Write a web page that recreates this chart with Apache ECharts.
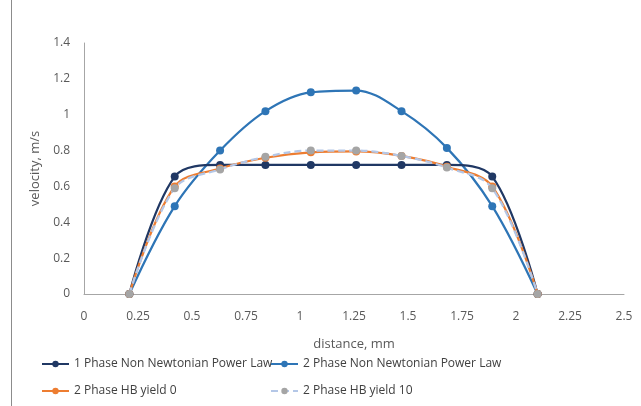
<!DOCTYPE html>
<html><head><meta charset="utf-8">
<script src="https://cdn.jsdelivr.net/npm/echarts@6/dist/echarts.min.js"></script>
<style>html,body{margin:0;padding:0;background:#fff}#c{width:641px;height:406px}</style>
</head><body><div id="c"></div>
<script>
const distance = [0.21, 0.42, 0.63, 0.84, 1.05, 1.26, 1.47, 1.68, 1.89, 2.10];
const onePhasePL = [0, 0.655, 0.72, 0.72, 0.72, 0.72, 0.72, 0.72, 0.655, 0];
const twoPhasePL = [0, 0.49, 0.80, 1.02, 1.125, 1.135, 1.02, 0.815, 0.49, 0];
const hbYield0 = [0, 0.60, 0.70, 0.76, 0.79, 0.795, 0.77, 0.71, 0.60, 0];
const hbYield10 = [0, 0.59, 0.695, 0.765, 0.80, 0.80, 0.77, 0.705, 0.59, 0];
const names = ['1 Phase Non Newtonian Power Law', '2 Phase Non Newtonian Power Law', '2 Phase HB yield 0', '2 Phase HB yield 10'];
const xTitle = 'distance, mm';
const yTitle = 'velocity, m/s';

const font = 'Open Sans';
const pairs = arr => distance.map((d, i) => [d, arr[i]]);
function mk(name, arr, lineColor, markColor, dashed, z) {
  return {
    name, type: 'line', data: pairs(arr), smooth: 0.35, z,
    symbol: 'circle', symbolSize: 8, showSymbol: true,
    lineStyle: { color: lineColor, width: 2.25, type: dashed ? [7, 4] : 'solid' },
    itemStyle: { color: markColor, borderWidth: 0 },
    emphasis: { disabled: true }
  };
}
const chart = echarts.init(document.getElementById('c'), null, { renderer: 'canvas' });
const legendBase = { padding: 0, itemWidth: 27, itemHeight: 8, itemGap: 2, textStyle: { fontFamily: font, fontSize: 12, color: '#404040' }, selectedMode: false };
chart.setOption({
  animation: false,
  grid: { left: 84, right: 17, top: 43, bottom: 112 },
  graphic: [{ type: 'line', shape: { x1: 11.5, y1: 0, x2: 11.5, y2: 406 }, style: { stroke: '#8c8c8c', lineWidth: 1 } }],
  xAxis: {
    type: 'value', min: 0, max: 2.5, interval: 0.25,
    name: xTitle, nameLocation: 'middle', nameGap: 44,
    nameTextStyle: { fontFamily: font, fontSize: 13, color: '#595959' },
    axisLine: { show: true, lineStyle: { color: '#a6a6a6', width: 1 } },
    axisTick: { show: false }, splitLine: { show: false },
    axisLabel: { fontFamily: font, fontSize: 12, color: '#595959', margin: 17 }
  },
  yAxis: {
    type: 'value', min: 0, max: 1.4, interval: 0.2,
    name: yTitle, nameLocation: 'middle', nameGap: 42, nameRotate: 90,
    nameTextStyle: { fontFamily: font, fontSize: 13, color: '#595959' },
    axisLine: { show: true, lineStyle: { color: '#a6a6a6', width: 1 } },
    axisTick: { show: false }, splitLine: { show: false },
    axisLabel: { fontFamily: font, fontSize: 12, color: '#595959', margin: 14 }
  },
  legend: [
    Object.assign({ left: 41, top: 358, data: [names[0]] }, legendBase),
    Object.assign({ left: 270, top: 358, data: [names[1]] }, legendBase),
    Object.assign({ left: 41, top: 385, data: [names[2]] }, legendBase),
    Object.assign({ left: 270, top: 385, data: [names[3]] }, legendBase)
  ],
  series: [
    mk(names[0], onePhasePL, '#203864', '#203864', false, 4),
    mk(names[1], twoPhasePL, '#2e75b6', '#2e75b6', false, 3),
    mk(names[2], hbYield0, '#ed7d31', '#ed7d31', false, 5),
    mk(names[3], hbYield10, '#b4c7e7', '#a5a5a5', true, 6)
  ]
});
</script></body></html>
